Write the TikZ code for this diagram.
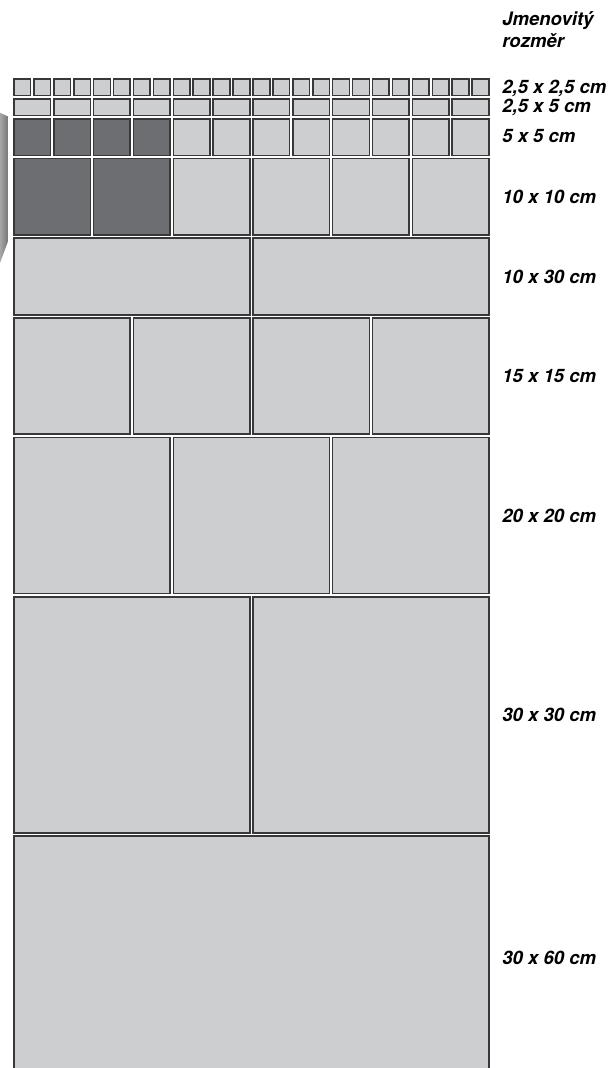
\documentclass[tikz,border=0pt]{standalone}
\usepackage{fontspec}
\setmainfont{TeX Gyre Heros}
\definecolor{dlazba}{HTML}{CDCED0}
\definecolor{tmava}{HTML}{6D6E71}
\definecolor{obrys}{HTML}{38383A}
\tikzset{
  dlazdice/.style={draw=obrys,line width=1.2pt,fill=dlazba},
  tmavadlazdice/.style={dlazdice,fill=tmava},
  popis/.style={anchor=west,inner sep=0pt,font=\fontsize{13.9}{16}\selectfont\bfseries\itshape},
}
\begin{document}
\begin{tikzpicture}[x=14.94pt,y=14.94pt]
        % --- okraj obrazku (jednotka = dlazdice 2,5 cm) ---
        \clip (-0.62,3.88) rectangle (30.0,-49.73);
        % --- sedy klin vlevo ---
        \shade[left color=black!35,right color=black!55] (-0.62,-1.78) -- (-0.19,-1.98) -- (-0.19,-8.16) -- (-0.62,-9.32) -- cycle;
        % --- rada 1: 2,5 x 2,5 cm ---
        \foreach \i in {0,...,23}
            \draw[dlazdice] (\i+0.08,-0.08) rectangle (\i+0.92,-0.92);
        % --- rada 2: 2,5 x 5 cm ---
        \foreach \i in {0,...,11}
            \draw[dlazdice] (2*\i+0.08,-1.08) rectangle (2*\i+1.92,-1.92);
        % --- rada 3: 5 x 5 cm ---
        \foreach \i in {0,...,3}
            \draw[tmavadlazdice] (2*\i+0.08,-2.08) rectangle (2*\i+1.92,-3.92);
        \foreach \i in {4,...,11}
            \draw[dlazdice] (2*\i+0.08,-2.08) rectangle (2*\i+1.92,-3.92);
        % --- rada 4: 10 x 10 cm ---
        \foreach \i in {0,1}
            \draw[tmavadlazdice] (4*\i+0.08,-4.08) rectangle (4*\i+3.92,-7.92);
        \foreach \i in {2,...,5}
            \draw[dlazdice] (4*\i+0.08,-4.08) rectangle (4*\i+3.92,-7.92);
        % --- rada 5: 10 x 30 cm ---
        \foreach \i in {0,1}
            \draw[dlazdice] (12*\i+0.08,-8.08) rectangle (12*\i+11.92,-11.92);
        % --- rada 6: 15 x 15 cm ---
        \foreach \i in {0,...,3}
            \draw[dlazdice] (6*\i+0.08,-12.08) rectangle (6*\i+5.92,-17.92);
        % --- rada 7: 20 x 20 cm ---
        \foreach \i in {0,1,2}
            \draw[dlazdice] (8*\i+0.08,-18.08) rectangle (8*\i+7.92,-25.92);
        % --- rada 8: 30 x 30 cm ---
        \foreach \i in {0,1}
            \draw[dlazdice] (12*\i+0.08,-26.08) rectangle (12*\i+11.92,-37.92);
        % --- rada 9: 30 x 60 cm ---
        \draw[dlazdice] (0.08,-38.08) rectangle (23.92,-49.92);
        % --- popisy ---
        \node[popis,anchor=base west] (hlava1) at (24.58,2.58) {Jmenovitý};
        \node[popis,anchor=base west] (hlava2) at (24.58,1.52) {rozměr};
        \node[popis] (r1) at (24.58,-0.54) {2,5 x 2,5 cm};
        \node[popis] (r2) at (24.58,-1.49) {2,5 x 5 cm};
        \node[popis] (r3) at (24.58,-2.95) {5 x 5 cm};
        \node[popis] (r4) at (24.58,-6) {10 x 10 cm};
        \node[popis] (r5) at (24.58,-10) {10 x 30 cm};
        \node[popis] (r6) at (24.58,-15) {15 x 15 cm};
        \node[popis] (r7) at (24.58,-22) {20 x 20 cm};
        \node[popis] (r8) at (24.58,-32) {30 x 30 cm};
        \node[popis] (r9) at (24.58,-44.2) {30 x 60 cm};
    \end{tikzpicture}
\end{document}
